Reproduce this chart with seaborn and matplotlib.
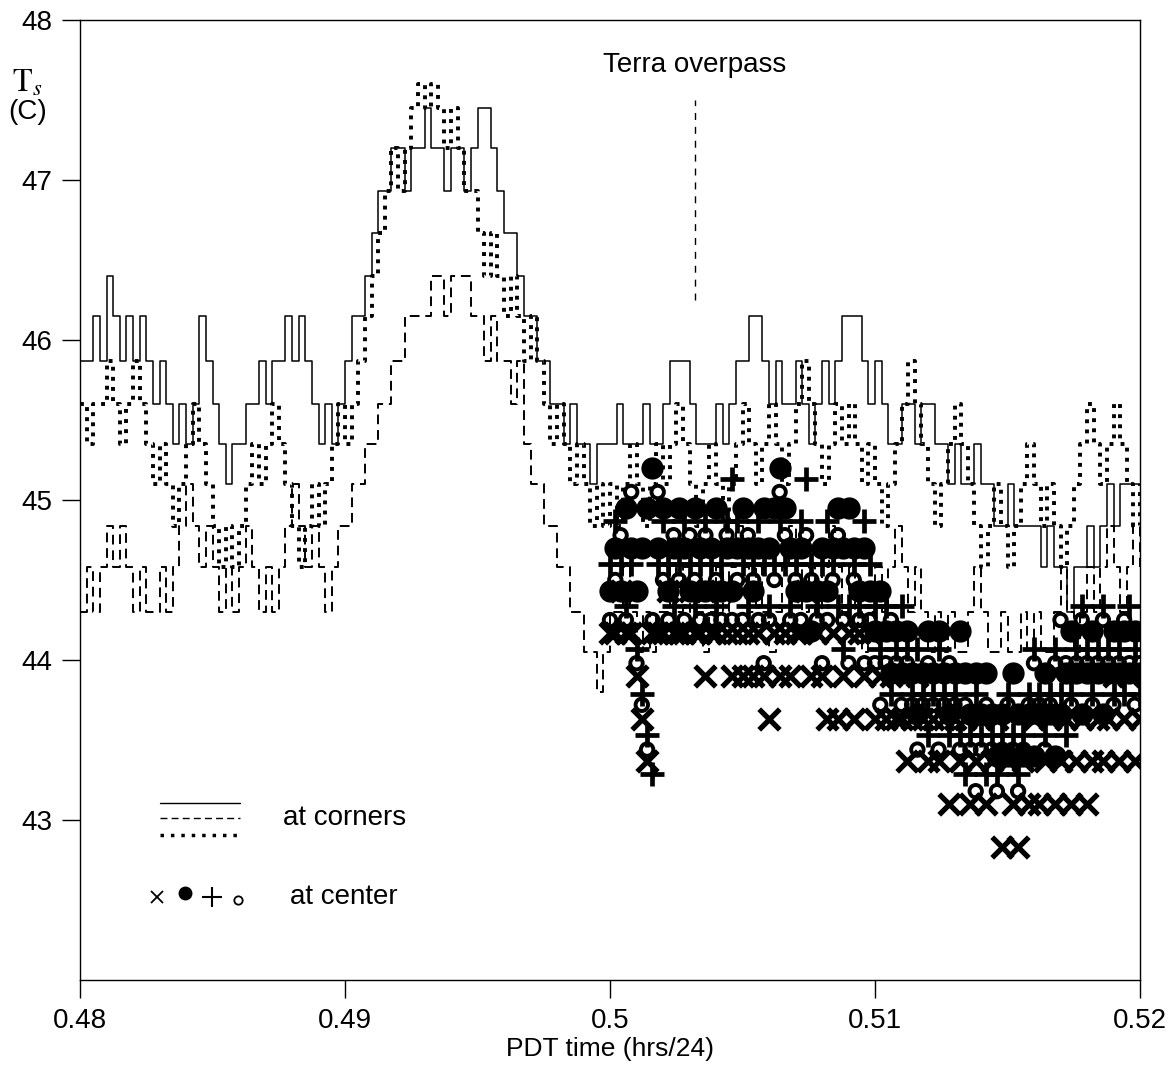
import numpy as np
import matplotlib
matplotlib.use("Agg")
import matplotlib.pyplot as plt
import seaborn as sns

# corner pixels, one reading every 0.00025 day from 0.48 to 0.52
corner_time = np.linspace(0.48, 0.52, 161)

corner_solid = [
    45.87, 45.87, 46.15, 45.87, 46.4, 46.15, 45.87, 46.15, 45.87, 46.15,
    45.87, 45.6, 45.87, 45.6, 45.35, 45.6, 45.35, 45.6, 46.15, 45.87,
    45.6, 45.35, 45.1, 45.35, 45.35, 45.6, 45.6, 45.87, 45.6, 45.87,
    45.87, 46.15, 45.87, 46.15, 45.87, 45.6, 45.35, 45.6, 45.35, 45.6,
    45.87, 46.15, 46.15, 46.4, 46.67, 46.93, 46.93, 47.2, 47.2, 46.93,
    47.2, 47.2, 47.45, 47.2, 47.2, 46.93, 47.2, 47.2, 46.93, 47.2,
    47.45, 47.45, 47.2, 46.93, 46.67, 46.67, 46.4, 46.15, 46.15, 45.87,
    45.87, 45.6, 45.6, 45.35, 45.6, 45.35, 45.35, 45.1, 45.35, 45.35,
    45.35, 45.6, 45.35, 45.35, 45.35, 45.6, 45.35, 45.35, 45.6, 45.87,
    45.87, 45.87, 45.6, 45.35, 45.35, 45.35, 45.6, 45.35, 45.6, 45.87,
    45.87, 46.15, 46.15, 45.87, 45.6, 45.87, 45.6, 45.6, 45.87, 45.6,
    45.35, 45.6, 45.87, 45.6, 45.87, 46.15, 46.15, 46.15, 45.87, 45.6,
    45.87, 45.6, 45.35, 45.35, 45.6, 45.6, 45.35, 45.6, 45.6, 45.35,
    45.35, 45.1, 45.35, 45.1, 45.1, 45.35, 45.1, 45.1, 44.84, 44.84,
    45.1, 44.84, 44.84, 44.84, 44.84, 44.58, 44.84, 44.58, 44.58, 44.3,
    44.58, 44.58, 44.84, 44.58, 44.84, 45.1, 44.84, 45.1, 45.1, 45.1, 45.1,
]

corner_dotted = [
    45.6, 45.35, 45.6, 45.6, 45.87, 45.6, 45.35, 45.6, 45.87, 45.6,
    45.35, 45.1, 45.35, 45.1, 44.84, 45.1, 45.35, 45.6, 45.35, 45.1,
    44.84, 44.58, 44.84, 44.58, 44.84, 45.1, 45.35, 45.1, 45.35, 45.6,
    45.35, 45.1, 44.84, 44.58, 44.84, 45.1, 44.84, 45.1, 45.35, 45.6,
    45.35, 45.6, 45.87, 46.15, 46.4, 46.67, 46.93, 47.2, 46.93, 47.2,
    47.45, 47.6, 47.45, 47.6, 47.45, 47.2, 47.45, 47.2, 46.93, 46.93,
    46.67, 46.4, 46.67, 46.4, 46.15, 46.4, 46.15, 45.87, 46.15, 45.87,
    45.6, 45.35, 45.6, 45.35, 45.1, 45.35, 45.1, 44.84, 45.1, 44.84,
    45.1, 44.84, 45.1, 45.35, 45.1, 44.84, 45.1, 45.35, 45.1, 45.35,
    45.6, 45.35, 45.1, 44.84, 45.1, 45.35, 45.1, 44.84, 45.1, 45.35,
    45.6, 45.35, 45.1, 45.35, 45.6, 45.35, 45.1, 45.35, 45.6, 45.87,
    45.6, 45.35, 45.1, 45.35, 45.6, 45.35, 45.6, 45.35, 45.1, 45.35,
    45.1, 44.84, 45.1, 45.35, 45.6, 45.87, 45.6, 45.35, 45.1, 44.84,
    45.1, 45.35, 45.6, 45.35, 45.1, 44.84, 44.58, 44.84, 45.1, 44.84,
    44.58, 44.84, 45.1, 45.35, 45.1, 44.84, 45.1, 44.84, 44.58, 44.84,
    45.1, 45.35, 45.6, 45.35, 45.1, 45.35, 45.6, 45.35, 45.1, 44.84, 45.1,
]

corner_dashed = [
    44.3, 44.58, 44.3, 44.58, 44.84, 44.58, 44.84, 44.58, 44.3, 44.58,
    44.3, 44.3, 44.58, 44.3, 44.58, 44.84, 45.1, 44.84, 44.58, 44.84,
    44.58, 44.3, 44.58, 44.3, 44.58, 44.84, 44.58, 44.3, 44.58, 44.3,
    44.58, 44.84, 45.1, 44.84, 44.58, 44.84, 44.58, 44.3, 44.58, 44.84,
    44.84, 45.1, 45.1, 45.35, 45.35, 45.6, 45.6, 45.87, 45.87, 46.15,
    46.15, 46.15, 46.15, 46.4, 46.4, 46.15, 46.4, 46.4, 46.4, 46.15,
    46.15, 45.87, 46.15, 45.87, 45.87, 45.6, 45.87, 45.35, 45.1, 45.1,
    44.84, 44.84, 44.58, 44.58, 44.3, 44.3, 44.05, 44.05, 43.8, 44.05,
    44.3, 44.3, 44.58, 44.3, 44.05, 44.3, 44.05, 44.3, 44.3, 44.58,
    44.3, 44.58, 44.3, 44.3, 44.05, 44.3, 44.58, 44.3, 44.58, 44.84,
    44.58, 44.3, 44.58, 44.3, 44.05, 44.3, 44.58, 44.84, 44.58, 44.3,
    44.58, 44.3, 44.58, 44.84, 44.58, 44.3, 44.58, 44.3, 44.05, 44.3,
    44.58, 44.3, 44.58, 44.84, 44.58, 44.3, 44.58, 44.3, 44.05, 44.3,
    44.05, 44.3, 44.05, 44.05, 44.3, 44.58, 44.3, 44.05, 44.05, 44.3,
    44.05, 44.05, 44.3, 44.05, 44.3, 44.05, 44.05, 44.3, 44.58, 44.3,
    44.05, 44.3, 44.58, 44.3, 44.58, 44.84, 44.58, 44.3, 44.58, 44.84, 44.58,
]

# center pixels, one reading every 0.0002 day from 0.50 to 0.52
center_time = np.linspace(0.50, 0.52, 101)

center_cross = [
    44.17, 44.17, 44.43, 44.17, 44.17, 43.9, 43.63, 43.37, 44.17, 44.17,
    44.17, 44.43, 44.17, 44.17, 44.17, 44.43, 44.17, 44.17, 43.9, 44.17,
    44.17, 44.43, 44.17, 43.9, 44.17, 43.9, 44.17, 43.9, 44.17, 43.9,
    43.63, 44.17, 43.9, 44.17, 43.9, 44.17, 44.17, 44.43, 43.9, 44.17,
    43.9, 43.63, 44.17, 43.63, 43.9, 44.17, 43.63, 44.17, 43.9, 44.17,
    43.63, 43.9, 43.63, 43.9, 43.63, 43.63, 43.37, 43.63, 43.9, 43.63,
    43.37, 43.63, 43.37, 43.63, 43.1, 43.63, 43.37, 43.63, 43.1, 43.37,
    43.63, 43.1, 43.37, 43.63, 42.83, 43.37, 43.1, 42.83, 43.37, 43.1,
    43.63, 43.1, 43.37, 43.63, 43.1, 43.37, 43.63, 43.1, 43.37, 43.63,
    43.1, 43.37, 43.63, 43.37, 43.63, 43.9, 43.37, 43.63, 43.9, 43.37, 43.63,
]

center_dot = [
    44.43, 44.7, 44.43, 44.95, 44.7, 44.43, 44.7, 44.95, 45.2, 44.7,
    44.95, 44.43, 44.7, 44.95, 44.7, 44.43, 44.95, 44.7, 44.43, 44.7,
    44.95, 44.43, 44.7, 44.43, 44.7, 44.95, 44.7, 44.43, 44.7, 44.95,
    44.7, 44.95, 45.2, 44.95, 44.7, 44.43, 44.7, 44.43, 44.18, 44.43,
    44.7, 44.43, 44.7, 44.95, 44.7, 44.95, 44.7, 44.43, 44.7, 44.43,
    44.18, 44.43, 44.18, 43.92, 44.18, 43.92, 44.18, 43.92, 43.66, 43.92,
    44.18, 43.92, 44.18, 43.92, 43.66, 43.92, 44.18, 43.92, 43.66, 43.92,
    43.66, 43.92, 43.66, 43.4, 43.66, 43.4, 43.92, 43.66, 43.4, 43.66,
    43.4, 43.66, 43.92, 43.66, 43.4, 43.66, 43.92, 44.18, 43.92, 43.66,
    43.92, 44.18, 43.92, 43.66, 43.92, 44.18, 43.92, 44.18, 43.92, 44.18, 43.92,
]

center_plus = [
    44.6, 44.87, 44.6, 44.34, 44.6, 44.07, 43.79, 43.53, 43.29, 44.6,
    44.87, 44.6, 44.34, 44.6, 44.87, 44.6, 44.34, 44.6, 44.87, 44.6,
    44.34, 44.6, 44.87, 45.13, 44.87, 44.6, 44.34, 44.6, 44.87, 44.6,
    44.34, 44.6, 44.87, 44.6, 44.34, 44.6, 44.87, 45.13, 44.6, 44.34,
    44.6, 44.87, 44.6, 44.34, 44.07, 44.34, 44.6, 44.34, 44.87, 44.6,
    44.34, 44.07, 44.34, 43.79, 44.07, 44.34, 44.07, 43.79, 44.07, 43.79,
    43.53, 43.79, 44.07, 43.79, 43.53, 43.79, 43.53, 43.29, 43.53, 43.79,
    43.53, 43.29, 43.53, 43.29, 43.53, 43.79, 43.53, 43.29, 43.53, 43.79,
    44.07, 43.79, 43.53, 43.79, 44.07, 43.79, 43.53, 43.79, 44.07, 44.34,
    44.07, 43.79, 44.07, 44.34, 44.07, 43.79, 44.07, 43.79, 44.34, 44.07, 43.79,
]

center_ring = [
    44.25, 44.5, 44.78, 44.25, 45.05, 43.98, 43.72, 43.44, 44.25, 45.05,
    44.5, 44.25, 44.78, 44.5, 44.25, 44.78, 44.5, 44.25, 44.78, 44.25,
    44.5, 44.25, 44.78, 44.25, 44.5, 44.25, 44.78, 44.5, 44.25, 43.98,
    44.25, 44.5, 45.05, 44.78, 44.25, 44.5, 44.25, 44.78, 44.5, 44.25,
    43.98, 44.25, 44.5, 44.78, 44.25, 43.98, 44.5, 44.25, 43.98, 44.25,
    43.98, 43.72, 43.98, 44.25, 43.98, 43.72, 43.98, 43.72, 43.44, 43.72,
    43.98, 43.72, 43.44, 43.72, 43.98, 43.72, 43.44, 43.72, 43.44, 43.18,
    43.44, 43.72, 43.44, 43.18, 43.44, 43.72, 43.44, 43.18, 43.44, 43.72,
    43.98, 43.72, 43.44, 43.72, 43.98, 44.25, 43.98, 43.72, 43.98, 44.25,
    43.98, 43.72, 43.98, 44.25, 43.98, 43.72, 43.98, 44.25, 43.98, 43.72, 43.98,
]

overpass_time = [0.5032, 0.5032]
overpass_temp = [46.25, 47.5]

x_ticks = [0.48, 0.49, 0.50, 0.51, 0.52]
x_labels = ["0.48", "0.49", "0.5", "0.51", "0.52"]
y_ticks = [43, 44, 45, 46, 47, 48]

sns.set_style("ticks")
plt.rcParams['font.family'] = ['Liberation Sans', 'DejaVu Sans']
plt.rcParams['mathtext.fontset'] = 'stix'
plt.rcParams['text.color'] = 'black'
plt.rcParams['axes.labelcolor'] = 'black'
plt.rcParams['xtick.color'] = 'black'
plt.rcParams['ytick.color'] = 'black'

fig = plt.figure(figsize=(11.74, 10.72), dpi=100)
ax = fig.add_axes([80 / 1174, 92 / 1072, 1060 / 1174, 960 / 1072])

line_kw = dict(ax=ax, color='black', drawstyle='steps-post',
               estimator=None, sort=False, legend=False)
sns.lineplot(x=corner_time, y=corner_dashed, lw=1.4, linestyle=(0, (5, 3)), **line_kw)
sns.lineplot(x=corner_time, y=corner_dotted, lw=2.8, linestyle=(0, (1, 1.6)), **line_kw)
sns.lineplot(x=corner_time, y=corner_solid, lw=1.1, linestyle='-', **line_kw)

sns.scatterplot(x=center_time, y=center_cross, ax=ax, marker='x', s=220,
                color='black', linewidth=3.8, legend=False)
sns.scatterplot(x=center_time, y=center_dot, ax=ax, marker='o', s=220,
                color='black', edgecolor='black', legend=False)
sns.scatterplot(x=center_time, y=center_plus, ax=ax, marker='+', s=290,
                color='black', linewidth=3.4, legend=False)
sns.scatterplot(x=center_time, y=center_ring, ax=ax, marker='o', s=80,
                facecolor='none', edgecolor='black', linewidth=2.8, legend=False)

# Terra overpass marker
sns.lineplot(x=overpass_time, y=overpass_temp, ax=ax, color='black', lw=1,
             linestyle=(0, (5, 5)), estimator=None, sort=False)
ax.text(0.5032, 47.72, "Terra overpass", ha='center', va='center', fontsize=20)

# hand made legend
for yy, ls, lw in [(0.184, '-', 1.0), (0.169, (0, (5, 3)), 1.0), (0.151, (0, (1, 2)), 2.5)]:
    ax.plot([0.0755, 0.151], [yy, yy], color='black', lw=lw, linestyle=ls,
            transform=ax.transAxes)
ax.text(0.1915, 0.169, "at corners", transform=ax.transAxes, fontsize=20, va='center')
ax.plot([0.0726], [0.0865], marker='x', ms=9, mew=1.3, color='black', transform=ax.transAxes)
ax.plot([0.099], [0.0906], marker='o', ms=9, color='black', transform=ax.transAxes)
ax.plot([0.1245], [0.0865], marker='+', ms=14, mew=1.5, color='black', transform=ax.transAxes)
ax.plot([0.149], [0.083], marker='o', ms=6, mew=1.3, mfc='white', color='black',
        transform=ax.transAxes)
ax.text(0.198, 0.0865, "at center", transform=ax.transAxes, fontsize=20, va='center')

ax.set_xlim(0.48, 0.52)
ax.set_ylim(42, 48)
ax.set_xticks(x_ticks)
ax.set_xticklabels(x_labels)
ax.set_yticks(y_ticks)
ax.tick_params(direction='out', length=13, width=1, labelsize=20, pad=7,
               color='black', labelcolor='black')
for sp in ax.spines.values():
    sp.set_visible(True)
    sp.set_linewidth(1)
    sp.set_color('black')
ax.set_xlabel("PDT time (hrs/24)", fontsize=19, labelpad=2)
ax.set_ylabel("")

fig.text(27 / 1174, 1 - 84 / 1072, r"$\mathrm{T}_{s}$", ha='center', va='center', fontsize=23)
fig.text(28 / 1174, 1 - 112 / 1072, "(C)", ha='center', va='center', fontsize=20)

fig.savefig("out.png", dpi=100)
